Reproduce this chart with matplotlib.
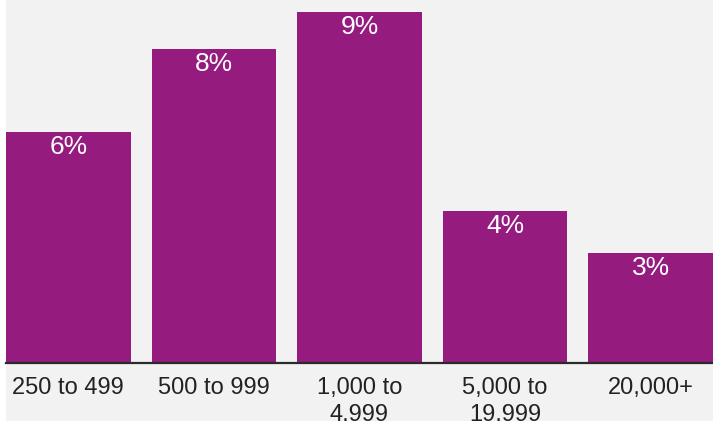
import matplotlib
matplotlib.use("Agg")
import matplotlib.pyplot as plt

categories = ["250 to 499", "500 to 999", "1,000 to\n4,999", "5,000 to\n19,999", "20,000+"]
values = [5.92, 8.05, 9.0, 3.9, 2.83]
value_labels = ["6%", "8%", "9%", "4%", "3%"]

bar_color = "#951b7f"
bg = "#f2f2f2"

plt.rcParams["font.family"] = ["Liberation Sans", "DejaVu Sans"]

fig = plt.figure(figsize=(7.13, 4.21), dpi=100)
fig.patch.set_facecolor("white")
bgax = fig.add_axes([6/713, 0, 1 - 6/713, 1])
bgax.set_facecolor(bg)
bgax.set_xticks([]); bgax.set_yticks([])
for s in bgax.spines.values():
    s.set_visible(False)

ax = fig.add_axes([6/713, 58/421, 1 - 6/713, 363/421])
ax.set_facecolor("none")
x = range(len(categories))
w = 0.856
bars = ax.bar(x, values, width=w, color=bar_color, zorder=2)
ax.set_xlim(-w/2, len(categories) - 1 + w/2)
ax.set_ylim(0, 363/39)

for b, lab in zip(bars, value_labels):
    ax.annotate(lab, (b.get_x() + b.get_width()/2, b.get_height()),
                xytext=(0, -15), textcoords="offset pixels",
                ha="center", va="center", color="white", fontsize=19)

ax.set_xticks(list(x))
ax.set_xticklabels(categories, fontsize=17, color="#222222", linespacing=1.3, va="top")
ax.tick_params(axis="x", length=0, pad=10)
ax.set_yticks([])
for s in ["top", "left", "right"]:
    ax.spines[s].set_visible(False)
ax.spines["bottom"].set_color("#2a2a2a")
ax.spines["bottom"].set_linewidth(1.6)
ax.spines["bottom"].set_zorder(3)

fig.savefig("out.png", dpi=100, facecolor=fig.get_facecolor())
